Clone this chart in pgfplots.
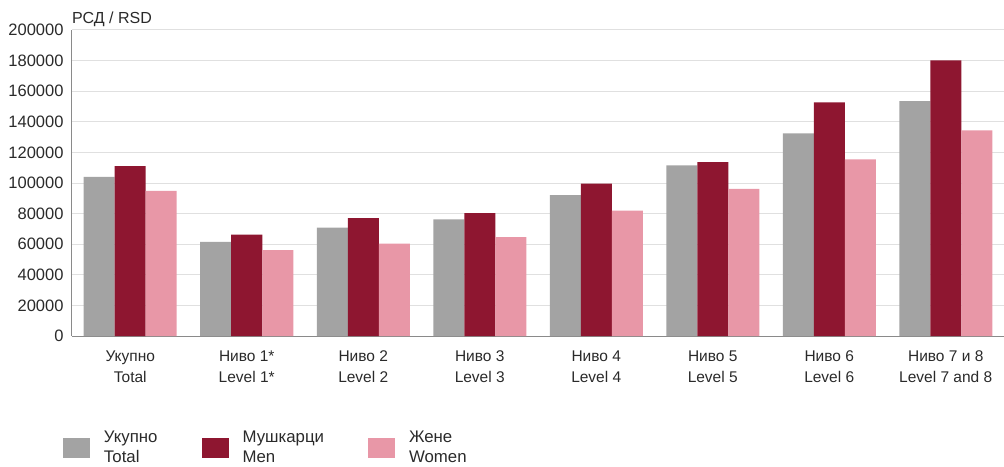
\documentclass[border=0pt]{standalone}
\usepackage{fontspec}
\setmainfont{Liberation Sans}
\usepackage{pgfplots}
\pgfplotsset{compat=1.18}
\definecolor{cgray}{HTML}{A3A3A3}
\definecolor{cred}{HTML}{8E1630}
\definecolor{cpink}{HTML}{E897A7}
\definecolor{cgrid}{HTML}{E0E0E0}
\definecolor{caxis}{HTML}{8A8A8A}
\definecolor{ctext}{HTML}{2A2A2A}
\begin{document}
\begin{tikzpicture}[x=1pt,y=1pt]
\useasboundingbox (-72,-130) rectangle (932,336);
\begin{axis}[
  at={(0,0)}, anchor=south west,
  scale only axis, width=932pt, height=306pt,
  clip=false,
  ybar=0pt, bar width=31pt,
  xmin=-0.5, xmax=7.5, ymin=0, ymax=200000,
  xtick={0,1,2,3,4,5,6,7},
  xticklabels={{Укупно\\Total},{Ниво 1*\\Level 1*},{Ниво 2\\Level 2},{Ниво 3\\Level 3},{Ниво 4\\Level 4},{Ниво 5\\Level 5},{Ниво 6\\Level 6},{Ниво 7 и 8\\Level 7 and 8}},
  xticklabel style={align=center, font=\fontsize{15.5}{21}\selectfont, text=ctext, yshift=-11pt},
  ytick={0,20000,...,200000},
  scaled y ticks=false,
  yticklabel style={/pgf/number format/fixed, /pgf/number format/1000 sep={}, font=\fontsize{16.5}{19}\selectfont, text=ctext, xshift=-5pt},
  /pgf/number format/assume math mode=true,
  ymajorgrids, grid style={cgrid, line width=1pt},
  major tick length=0pt,
  axis x line*=bottom, axis y line*=left,
  axis line style={-, caxis, line width=1pt},
  legend style={at={(axis description cs:-0.00966,-0.3644)}, anchor=west, draw=none, fill=none,
    inner sep=0pt, outer sep=0pt,
    font=\fontsize{16.8}{20.5}\selectfont, text=ctext,
    cells={anchor=west, align=left},
    /tikz/every odd column/.append style={column sep=12pt},
    /tikz/every even column/.append style={column sep=42pt}},
  legend columns=3,
  legend image code/.code={\fill[#1] (0pt,-10pt) rectangle (27pt,10pt);},
]
\addplot[fill=cgray, draw=none] coordinates {(0,104000) (1,61500) (2,70800) (3,76300) (4,92000) (5,111500) (6,132500) (7,153500)};
\addplot[fill=cred, draw=none] coordinates {(0,111000) (1,66200) (2,77000) (3,80300) (4,99600) (5,113700) (6,152700) (7,180200)};
\addplot[fill=cpink, draw=none] coordinates {(0,94800) (1,56200) (2,60300) (3,64700) (4,82000) (5,96100) (6,115500) (7,134400)};
\legend{{Укупно\\Total},{Мушкарци\\Men},{Жене\\Women}}
\node[anchor=base west, inner sep=0pt, font=\fontsize{16}{19}\selectfont, text=ctext] at (rel axis cs:0,1) [yshift=6pt] {РСД / RSD};
\end{axis}
\end{tikzpicture}
\end{document}
